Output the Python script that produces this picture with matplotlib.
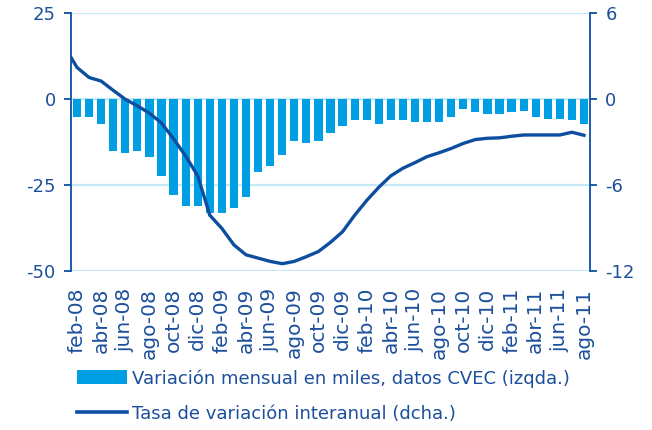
import matplotlib.pyplot as plt
import numpy as np
from matplotlib.patches import Patch
from matplotlib.lines import Line2D

# monthly data, feb-08 .. ago-11
months = ['feb-08', 'mar-08', 'abr-08', 'may-08', 'jun-08', 'jul-08', 'ago-08', 'sep-08',
          'oct-08', 'nov-08', 'dic-08', 'ene-09', 'feb-09', 'mar-09', 'abr-09', 'may-09',
          'jun-09', 'jul-09', 'ago-09', 'sep-09', 'oct-09', 'nov-09', 'dic-09', 'ene-10',
          'feb-10', 'mar-10', 'abr-10', 'may-10', 'jun-10', 'jul-10', 'ago-10', 'sep-10',
          'oct-10', 'nov-10', 'dic-10', 'ene-11', 'feb-11', 'mar-11', 'abr-11', 'may-11',
          'jun-11', 'jul-11', 'ago-11']

# variacion mensual en miles (left axis)
var_mensual = [-5.1, -5.1, -7.4, -15.1, -15.7, -15.1, -16.9, -22.3,
               -27.8, -31.2, -31.2, -33.0, -33.0, -31.8, -28.4, -21.2,
               -19.4, -16.3, -12.3, -12.8, -12.3, -10.0, -7.9, -6.2,
               -6.2, -7.4, -6.2, -6.2, -6.8, -6.8, -6.8, -5.1,
               -2.8, -3.9, -4.5, -4.5, -3.9, -3.4, -5.1, -5.7,
               -5.7, -6.2, -7.4]

# tasa de variacion interanual (right axis), starts one month earlier (ene-08),
# that first point lies outside the plotted range and is clipped
tasa_interanual = [3.6, 2.2, 1.5, 1.25, 0.6, -0.02, -0.48, -0.99, -1.68,
                   -2.78, -3.98, -5.36, -8.11, -9.03, -10.18, -10.87, -11.1,
                   -11.33, -11.49, -11.33, -11.0, -10.64, -10.0, -9.26, -8.11,
                   -7.08, -6.16, -5.36, -4.83, -4.44, -4.02, -3.75, -3.45,
                   -3.10, -2.83, -2.74, -2.71, -2.60, -2.51, -2.51, -2.51,
                   -2.51, -2.32, -2.53]

left_ticks = [25, 0, -25, -50]
right_ticks = [6, 0, -6, -12]

bar_color = '#009fe3'
line_color = '#0d4ea0'
text_color = '#1c4f9c'
grid_color = '#c6e9f8'

plt.rcParams['font.family'] = ['DejaVu Sans']
plt.rcParams['axes.unicode_minus'] = False

fig = plt.figure(figsize=(6.52, 4.30), dpi=100)
ax = fig.add_axes([71 / 652, 1 - 271 / 430, (590 - 71) / 652, (271 - 13) / 430])
ax2 = ax.twinx()

x = np.arange(len(months))
ax.bar(x, var_mensual, width=0.68, color=bar_color, zorder=2)
ax.set_ylim(-50, 25)
ax.set_xlim(-0.5, len(months) - 0.5)
ax.set_yticks(left_ticks)
for t in left_ticks:
    ax.axhline(t, color=grid_color, lw=1.6, zorder=1)

x_line = np.arange(len(tasa_interanual)) - 1
ax2.plot(x_line, tasa_interanual, color=line_color, lw=2.4, zorder=3)
ax2.set_ylim(-12, 6)
ax2.set_xlim(-0.5, len(months) - 0.5)
ax2.set_yticks(right_ticks)

ax.set_xticks(x[::2])
ax.set_xticklabels(months[::2], rotation=90, fontsize=14.5, color=text_color)
ax.tick_params(axis='x', length=0, pad=12)
ax.tick_params(axis='y', labelsize=13, labelcolor=text_color, color=line_color,
               length=5, width=1.3, pad=6)
ax2.tick_params(axis='y', labelsize=13, labelcolor=text_color, color=line_color,
                length=5, width=1.3, pad=6)

for a in (ax, ax2):
    a.spines['top'].set_visible(False)
    a.spines['bottom'].set_visible(False)
    a.spines['left'].set_color(line_color)
    a.spines['right'].set_color(line_color)
    a.spines['left'].set_linewidth(1.3)
    a.spines['right'].set_linewidth(1.3)
ax2.spines['left'].set_visible(False)
ax.spines['right'].set_visible(False)

handles = [Patch(facecolor=bar_color, edgecolor='none'),
           Line2D([0], [0], color=line_color, lw=2.6)]
labels = ['Variación mensual en miles, datos CVEC (izqda.)',
          'Tasa de variación interanual (dcha.)']
leg = fig.legend(handles, labels, loc='upper left', bbox_to_anchor=(77 / 652, 1 - 369 / 430),
                 frameon=False, fontsize=13, handlelength=2.75, handleheight=0.8,
                 handletextpad=0.3, labelspacing=0.95, borderaxespad=0, borderpad=0)
for t in leg.get_texts():
    t.set_color(text_color)

fig.savefig('out.png', dpi=100)
